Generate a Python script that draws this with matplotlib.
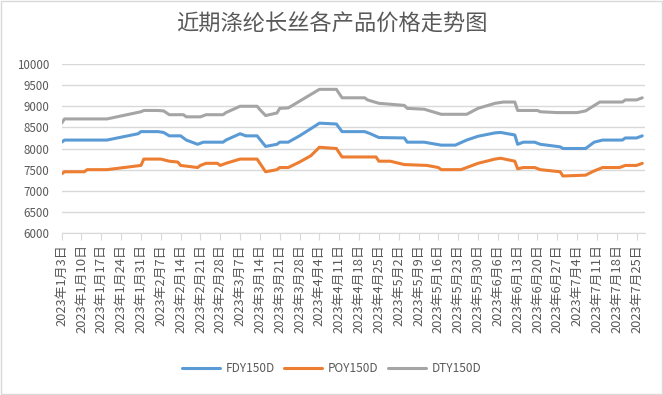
import matplotlib
matplotlib.use("Agg")
import matplotlib.pyplot as plt
import matplotlib.dates as mdates
from matplotlib.patches import Rectangle
import pandas as pd

plt.rcParams['font.family'] = ['Noto Sans CJK SC', 'DejaVu Sans']

title = "近期涤纶长丝各产品价格走势图"

# price breakpoints (yuan/ton)
fdy_dates = ["2023-01-03", "2023-01-04", "2023-01-19", "2023-01-30", "2023-01-31", "2023-02-06",
             "2023-02-08", "2023-02-10", "2023-02-14", "2023-02-16", "2023-02-20", "2023-02-22",
             "2023-03-01", "2023-03-02", "2023-03-07", "2023-03-09", "2023-03-13", "2023-03-16",
             "2023-03-20", "2023-03-21", "2023-03-24", "2023-03-28", "2023-04-01", "2023-04-04",
             "2023-04-10", "2023-04-12", "2023-04-20", "2023-04-22", "2023-04-25", "2023-05-04",
             "2023-05-05", "2023-05-11", "2023-05-17", "2023-05-22", "2023-05-26", "2023-05-30",
             "2023-06-05", "2023-06-07", "2023-06-12", "2023-06-13", "2023-06-15", "2023-06-19",
             "2023-06-21", "2023-06-28", "2023-06-29", "2023-07-07", "2023-07-10", "2023-07-13",
             "2023-07-20", "2023-07-21", "2023-07-25", "2023-07-27"]
fdy_values = [8150, 8200, 8200, 8350, 8400, 8400,
              8380, 8300, 8300, 8200, 8100, 8150,
              8150, 8200, 8350, 8300, 8300, 8050,
              8100, 8150, 8150, 8300, 8470, 8600,
              8580, 8400, 8400, 8350, 8260, 8250,
              8150, 8150, 8080, 8080, 8200, 8290,
              8370, 8380, 8320, 8100, 8150, 8150,
              8100, 8040, 8000, 8000, 8150, 8200,
              8200, 8250, 8250, 8300]

poy_dates = ["2023-01-03", "2023-01-04", "2023-01-11", "2023-01-12", "2023-01-19", "2023-01-31",
             "2023-02-01", "2023-02-07", "2023-02-10", "2023-02-13", "2023-02-14", "2023-02-20",
             "2023-02-21", "2023-02-23", "2023-02-27", "2023-02-28", "2023-03-02", "2023-03-07",
             "2023-03-13", "2023-03-14", "2023-03-16", "2023-03-20", "2023-03-21", "2023-03-24",
             "2023-03-28", "2023-04-01", "2023-04-04", "2023-04-10", "2023-04-12", "2023-04-24",
             "2023-04-25", "2023-04-29", "2023-05-04", "2023-05-12", "2023-05-16", "2023-05-17",
             "2023-05-24", "2023-05-30", "2023-06-05", "2023-06-07", "2023-06-12", "2023-06-13",
             "2023-06-15", "2023-06-19", "2023-06-21", "2023-06-28", "2023-06-29", "2023-07-07",
             "2023-07-10", "2023-07-13", "2023-07-19", "2023-07-21", "2023-07-25", "2023-07-27"]
poy_values = [7400, 7450, 7450, 7500, 7500, 7600,
              7750, 7750, 7700, 7680, 7600, 7550,
              7600, 7650, 7650, 7600, 7650, 7750,
              7750, 7650, 7450, 7500, 7550, 7550,
              7680, 7830, 8030, 8000, 7800, 7800,
              7700, 7700, 7620, 7600, 7550, 7500,
              7500, 7650, 7750, 7770, 7700, 7520,
              7550, 7550, 7500, 7450, 7350, 7370,
              7470, 7550, 7550, 7600, 7600, 7650]

dty_dates = ["2023-01-03", "2023-01-04", "2023-01-19", "2023-01-31", "2023-02-01", "2023-02-06",
             "2023-02-08", "2023-02-10", "2023-02-15", "2023-02-16", "2023-02-21", "2023-02-23",
             "2023-03-01", "2023-03-02", "2023-03-07", "2023-03-13", "2023-03-14", "2023-03-16",
             "2023-03-20", "2023-03-21", "2023-03-24", "2023-03-28", "2023-04-01", "2023-04-04",
             "2023-04-10", "2023-04-12", "2023-04-20", "2023-04-21", "2023-04-25", "2023-05-04",
             "2023-05-05", "2023-05-11", "2023-05-17", "2023-05-26", "2023-05-30", "2023-06-05",
             "2023-06-08", "2023-06-12", "2023-06-13", "2023-06-20", "2023-06-21", "2023-06-27",
             "2023-07-04", "2023-07-07", "2023-07-12", "2023-07-20", "2023-07-21", "2023-07-25",
             "2023-07-27"]
dty_values = [8600, 8700, 8700, 8870, 8900, 8900,
              8890, 8800, 8800, 8750, 8750, 8800,
              8800, 8850, 9000, 9000, 8920, 8780,
              8840, 8950, 8960, 9120, 9280, 9400,
              9400, 9200, 9200, 9150, 9070, 9020,
              8950, 8930, 8810, 8810, 8950, 9070,
              9100, 9100, 8900, 8900, 8870, 8850,
              8850, 8890, 9100, 9100, 9150, 9150,
              9200]

series = [("FDY150D", fdy_dates, fdy_values, "#5B9BD5"),
          ("POY150D", poy_dates, poy_values, "#ED7D31"),
          ("DTY150D", dty_dates, dty_values, "#A5A5A5")]

tick_dates = pd.date_range("2023-01-03", "2023-07-25", freq="7D")
tick_labels = [f"{d.year}年{d.month}月{d.day}日" for d in tick_dates]

text_color = "#595959"
grid_color = "#D9D9D9"

fig = plt.figure(figsize=(6.63, 3.95), dpi=100)
ax = fig.add_axes([0.093, 0.41, 0.88, 0.428])

for name, dates, values, color in series:
    ax.plot(pd.to_datetime(dates), values, color=color, linewidth=2.2, label=name,
            solid_capstyle="round", solid_joinstyle="round")

ax.set_ylim(6000, 10000)
ax.set_yticks(range(6000, 10001, 500))
ax.set_xlim(pd.Timestamp("2023-01-03"), pd.Timestamp("2023-07-28"))
ax.set_xticks(tick_dates)
ax.set_xticklabels(tick_labels, rotation=90, fontsize=9.3, color=text_color)
ax.tick_params(axis="y", length=0, labelsize=8.3, colors=text_color, pad=9)
ax.tick_params(axis="x", length=5, color=grid_color, pad=3)

ax.grid(axis="y", color=grid_color, linewidth=1)
ax.set_axisbelow(True)
for side in ["top", "right", "left"]:
    ax.spines[side].set_visible(False)
ax.spines["bottom"].set_color(grid_color)

fig.suptitle(title, y=0.968, fontsize=16, color=text_color)

fig.legend(loc="center", bbox_to_anchor=(0.5, 0.068), ncol=3, frameon=False,
           fontsize=8.5, handlelength=3.2, columnspacing=0.8, handletextpad=0.5,
           labelcolor=text_color)

fig.patches.append(Rectangle((0.001, 0.002), 0.997, 0.995, transform=fig.transFigure,
                             fill=False, edgecolor=grid_color, linewidth=1))

fig.savefig("out.png", dpi=100)
